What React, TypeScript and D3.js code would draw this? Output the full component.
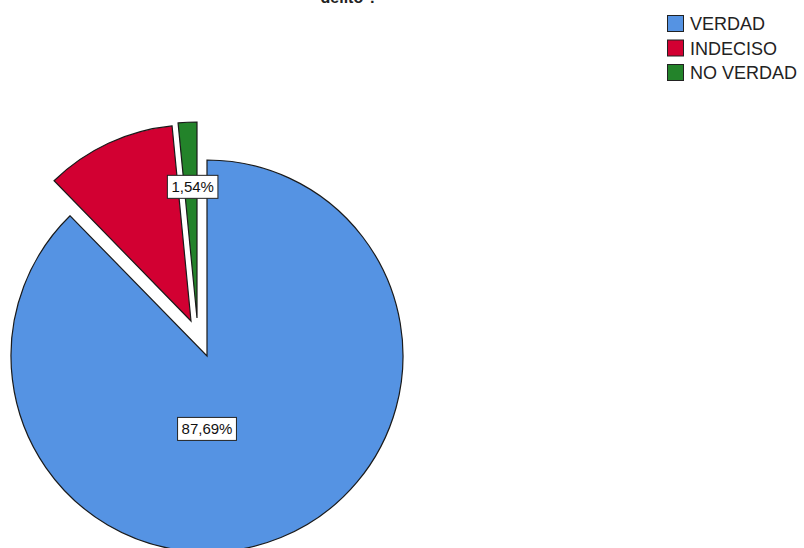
import React, { useEffect, useRef } from "react";
import * as d3 from "d3";

const categories = ["VERDAD", "INDECISO", "NO VERDAD"];
const percents = [87.69, 10.77, 1.54];
const labelTexts = ["87,69%", "", "1,54%"];
const colors = ["#5593E3", "#D20032", "#23832A"];
const titleText = "delito ?";

const App: React.FC = () => {
  const ref = useRef<SVGSVGElement | null>(null);

  useEffect(() => {
    if (!ref.current) return;
    const width = 804;
    const height = 548;
    const svg = d3.select(ref.current);
    svg.selectAll("*").remove();
    svg.attr("width", width).attr("height", height);

    const cx = 207;
    const cy = 356;
    const radius = 196;

    // title, mostly clipped off the top (as in the source image)
    svg.append("text")
      .attr("x", 349)
      .attr("y", 3)
      .attr("text-anchor", "middle")
      .attr("font-family", "Liberation Sans, Arial, sans-serif")
      .attr("font-weight", "bold")
      .attr("font-size", "16px")
      .attr("fill", "#222")
      .text(titleText);

    const pie = d3.pie<number>().sort(null).value(d => d);
    const arcs = pie(percents);
    const arc = d3.arc<d3.PieArcDatum<number>>().innerRadius(0).outerRadius(radius);

    // exploded slices are pushed out, the way SPSS does it
    const offsets: [number, number][] = [[0, 0], [-16, -35], [-10, -38]];

    const g = svg.append("g").attr("transform", `translate(${cx},${cy})`);

    arcs.forEach((a, i) => {
      g.append("path")
        .attr("d", arc(a) || "")
        .attr("transform", `translate(${offsets[i][0]},${offsets[i][1]})`)
        .attr("fill", colors[i])
        .attr("stroke", "#1a1a1a")
        .attr("stroke-width", 1.2)
        .attr("stroke-linejoin", "miter");
    });

    // data labels
    const labelPos: [number, number][] = [
      [0, radius * 0.372],
      [0, 0],
      [offsets[2][0] + Math.sin((arcs[2].startAngle + arcs[2].endAngle) / 2) * radius * 0.67 + 2,
       offsets[2][1] - Math.cos((arcs[2].startAngle + arcs[2].endAngle) / 2) * radius * 0.67],
    ];

    arcs.forEach((a, i) => {
      if (!labelTexts[i]) return;
      const [lx, ly] = labelPos[i];
      const lg = g.append("g").attr("transform", `translate(${lx},${ly})`);
      const t = lg.append("text")
        .attr("text-anchor", "middle")
        .attr("dominant-baseline", "central")
        .attr("font-family", "Liberation Sans, Arial, sans-serif")
        .attr("font-size", "15px")
        .attr("fill", "#111")
        .text(labelTexts[i]);
      const bb = (t.node() as SVGTextElement).getBBox();
      lg.insert("rect", "text")
        .attr("x", -bb.width / 2 - 4)
        .attr("y", -11.5)
        .attr("width", bb.width + 8)
        .attr("height", 23)
        .attr("fill", "#fff")
        .attr("stroke", "#222")
        .attr("stroke-width", 1);
    });

    // legend
    const legend = svg.append("g").attr("transform", "translate(667,15)");
    categories.forEach((c, i) => {
      const row = legend.append("g").attr("transform", `translate(0,${i * 24.5})`);
      row.append("rect")
        .attr("x", 0.5)
        .attr("y", 0.5)
        .attr("width", 16)
        .attr("height", 16)
        .attr("fill", colors[i])
        .attr("stroke", "#222")
        .attr("stroke-width", 1);
      row.append("text")
        .attr("x", 23)
        .attr("y", 15)
        .attr("font-family", "Liberation Sans, Arial, sans-serif")
        .attr("font-size", "18px")
        .attr("fill", "#222")
        .text(c);
    });
  }, []);

  return (
    <svg
      ref={ref}
      style={{ position: "absolute", left: 0, top: 0, background: "#fff" }}
    />
  );
};

export default App;
